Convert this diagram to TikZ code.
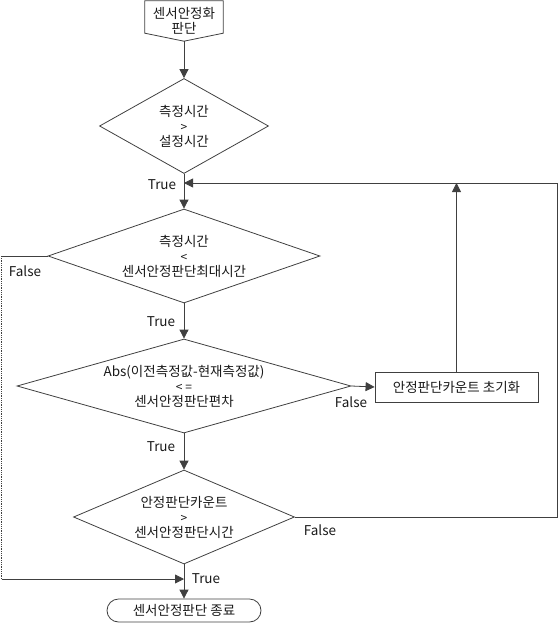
\documentclass[tikz,border=0pt]{standalone}
\usepackage{fontspec}
\setmainfont{Noto Sans CJK KR}
\usetikzlibrary{shapes.geometric, shapes.misc, arrows.meta}

\begin{document}
\begin{tikzpicture}[x=1pt, y=1pt,
    font=\fontsize{13.5}{15}\selectfont, text=black!90,
    line/.style={draw=black!75, line width=0.8pt},
    arr/.style={line, -{Triangle[length=9pt, width=9pt]}},
    decision/.style={diamond, line, inner sep=0pt, align=center},
    process/.style={rectangle, line, inner sep=0pt}]
    \useasboundingbox (0,0) rectangle (558,-627);

    % Start
    \node[inner sep=0pt, minimum width=78pt, minimum height=40pt, align=center] (start) at (184,-21) {센서안정화\\판단};
    \draw[line] (start.north west) -- (start.north east) -- ([yshift=8pt]start.south east)
      -- (start.south) -- ([yshift=8pt]start.south west) -- cycle;

    % Decisions
    \node[decision, minimum width=169pt, minimum height=95pt, aspect=1.78] (cond1) at (184,-126)
      {측정시간\\{\fontsize{12}{10}\selectfont >}\\설정시간};
    \node[decision, minimum width=272pt, minimum height=94pt, aspect=2.9] (cond2) at (184,-256)
      {측정시간\\{\fontsize{12}{10}\selectfont <}\\센서안정판단최대시간};
    \node[decision, minimum width=334pt, minimum height=94pt, aspect=3.55] (cond3) at (184,-386)
      {Abs(이전측정값-현재측정값)\\{\fontsize{12}{10}\selectfont < =}\\센서안정판단편차};
    \node[decision, minimum width=221pt, minimum height=94pt, aspect=2.35] (cond4) at (184,-517)
      {안정판단카운트\\{\fontsize{12}{10}\selectfont >}\\센서안정판단시간};

    % Reset and end
    \node[process, minimum width=163pt, minimum height=30pt] (reset) at (456.5,-387) {안정판단카운트 초기화};
    \node[rounded rectangle, line, inner sep=0pt, minimum width=154pt, minimum height=23pt] (stop) at (184,-610.5) {센서안정판단 종료};

    \coordinate (join) at (184,-183);
    \coordinate (loopT) at (557,-183);
    \coordinate (loopB) at (557,-517);
    \coordinate (leftT) at (1.5,-256);
    \coordinate (leftB) at (1.5,-579);
    \coordinate (merge) at (184,-579);

    % Main flow
    \draw[arr] (start.south) -- (cond1.north);
    \draw[arr] (cond1.south) -- (cond2.north);
    \draw[arr] (cond2.south) -- (cond3.north);
    \draw[arr] (cond3.south) -- (cond4.north);
    \draw[arr] (cond4.south) -- (stop.north);

    % Loops
    \draw[arr] (cond3.east) -- (reset.west);
    \draw[arr] (reset.north) -- (reset.north |- join);
    \draw[arr] (cond4.east) -- (loopB) -- (loopT) -- (join);
    \draw[line] (cond2.west) -- (leftT);
    \draw[line, densely dotted] (leftT) -- (leftB);
    \draw[arr] (leftB) -- (merge);

    % Labels
    \node (true1) at (162,-185) {True};
    \node (false1) at (25,-271) {False};
    \node (true2) at (161,-322) {True};
    \node (false2) at (351,-402) {False};
    \node (true3) at (161,-447) {True};
    \node (false3) at (320,-530) {False};
    \node (true4) at (206,-579) {True};
  \end{tikzpicture}
\end{document}
